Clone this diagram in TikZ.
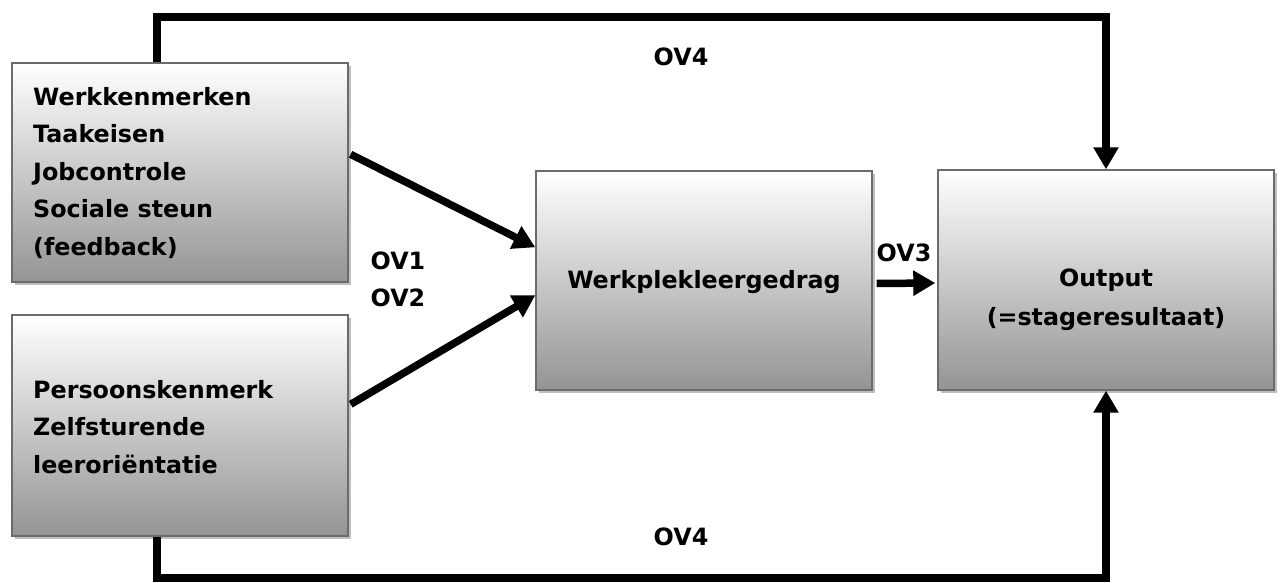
\documentclass[tikz,border=0pt]{standalone}
\usepackage{fontspec}
\setmainfont{DejaVu Sans}
\usetikzlibrary{arrows.meta,shadows,calc}
\begin{document}
\begin{tikzpicture}[x=1pt,y=-1pt,
  box/.style={draw=black!58, line width=1.4pt, top color=white, bottom color=black!42,
    minimum width=336pt, minimum height=219pt, inner sep=0pt,
    drop shadow={shadow xshift=3pt, shadow yshift=-3pt, fill=black!25, opacity=1}},
  txt/.style={font=\fontsize{23.8}{37.5}\selectfont\bfseries, align=left, inner sep=0pt},
  ctxt/.style={font=\fontsize{23.8}{39}\selectfont\bfseries, align=center, inner sep=0pt},
  conn/.style={line width=7.5pt, -{Triangle[length=22pt,width=24pt]}},
  thick line/.style={line width=7.5pt}]
\useasboundingbox (0,0) rectangle (1280,583);
\node[box] (wk) at (180,172.5) {};
\node[box, minimum height=221pt] (pk) at (180,425.5) {};
\node[box] (wg) at (704,280.5) {};
\node[box, minimum height=220pt] (out) at (1106,280) {};
\node[txt, anchor=west] (wkt) at (33,173) {Werkkenmerken\\Taakeisen\\Jobcontrole\\Sociale steun\\(feedback)};
\node[txt, anchor=west] (pkt) at (33,427) {Persoonskenmerk\\Zelfsturende\\leeroriëntatie};
\node[ctxt] (wgt) at (704,282) {Werkplekleergedrag};
\node[ctxt] (outt) at (1106,300) {Output\\(=stageresultaat)};
\node[txt] (ov1) at (398,261) {OV1};
\node[txt] (ov2) at (398,298) {OV2};
\node[txt] (ov3) at (904,253) {OV3};
\node[txt] (ov4a) at (681,57) {OV4};
\node[txt] (ov4b) at (681,537) {OV4};
\coordinate (tl) at (157,17);
\coordinate (bl) at (157,578);
\draw[conn] (wk.north -| tl) |- (tl -| out.north) -- (out.north);
\draw[conn] (pk.south -| bl) |- (bl -| out.south) -- (out.south);
\draw[conn] ($(wk.north east)+(2,92)$) -- ($(wg.north west)+(0,77)$);
\draw[conn] ($(pk.north east)+(2,90)$) -- ($(wg.north west)+(0,125)$);
\draw[conn] ($(wg.east)+(4,3)$) -- ($(out.west)+(-2,3)$);
\end{tikzpicture}
\end{document}
